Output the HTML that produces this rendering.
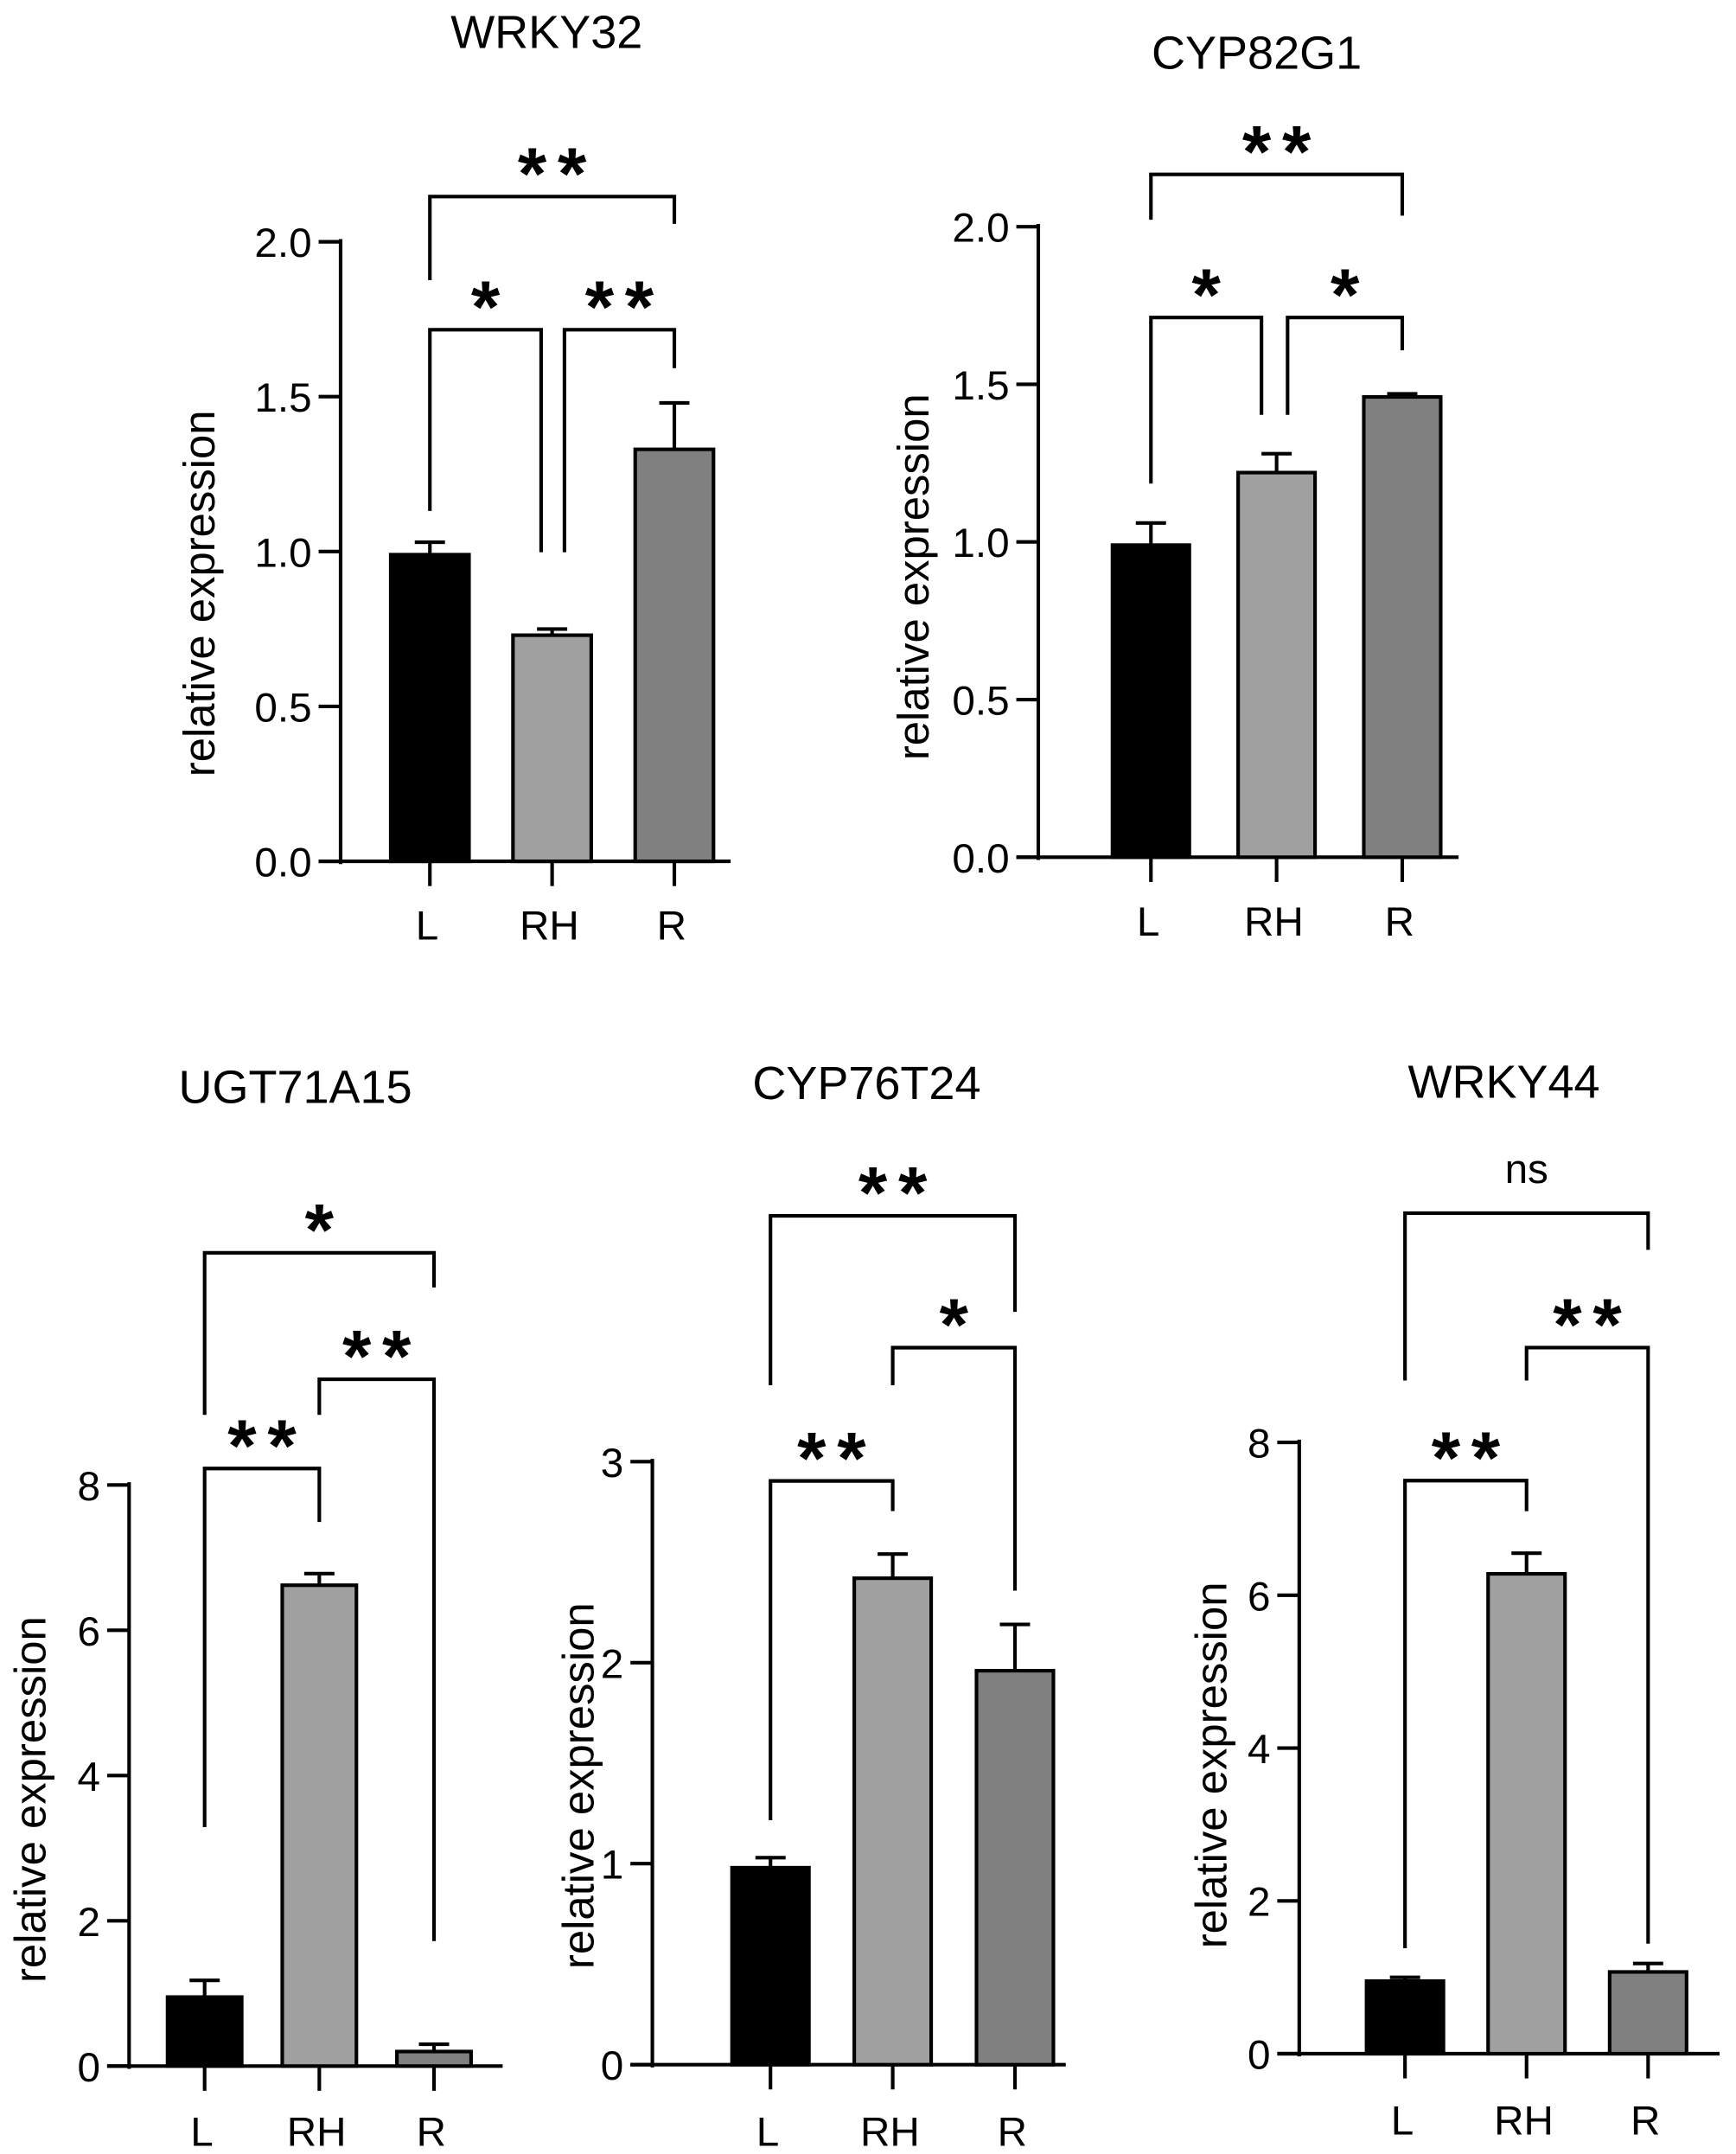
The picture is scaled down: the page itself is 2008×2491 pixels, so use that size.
<!DOCTYPE html>
<html><head><meta charset="utf-8"><style>
html,body{margin:0;padding:0;background:#fff}
svg{display:block}
text{font-family:"Liberation Sans",Arial,sans-serif;fill:#000}
</style></head><body>
<svg id="fig" width="2008" height="2491" viewBox="0 0 1264 1568" xmlns="http://www.w3.org/2000/svg"></svg>
<script>
const categories = ["L","RH","R"];
const titles = ["WRKY32","CYP82G1","UGT71A15","CYP76T24","WRKY44"];
const meansWRKY32 = [0.99,0.73,1.33];
const errWRKY32 = [0.04,0.02,0.15];
const meansCYP82G1 = [0.99,1.22,1.46];
const errCYP82G1 = [0.07,0.06,0.01];
const meansUGT71A15 = [0.95,6.62,0.2];
const errUGT71A15 = [0.23,0.16,0.1];
const meansCYP76T24 = [0.98,2.42,1.96];
const errCYP76T24 = [0.05,0.12,0.23];
const meansWRKY44 = [0.95,6.28,1.07];
const errWRKY44 = [0.05,0.27,0.11];
const ticksWRKY32 = ["0.0","0.5","1.0","1.5","2.0"];
const ticksCYP82G1 = ["0.0","0.5","1.0","1.5","2.0"];
const ticksUGT71A15 = ["0","2","4","6","8"];
const ticksCYP76T24 = ["0","1","2","3"];
const ticksWRKY44 = ["0","2","4","6","8"];
// brackets: [from, to, level, leftEnd, rightEnd, label, leftOffsetPx, rightOffsetPx]
const sigWRKY32 = [[0,2,2.146,1.876,2.058,"**",0,0],[0,1,1.716,1.131,0.998,"*",0,-8],[1,2,1.716,0.998,1.592,"**",9,0]];
const sigCYP82G1 = [[0,2,2.166,2.022,2.035,"**",0,0],[0,1,1.712,1.185,1.403,"*",0,-11],[1,2,1.712,1.403,1.608,"*",8,0]];
const sigUGT71A15 = [[0,2,11.196,8.965,10.72,"*",0,0],[1,2,9.456,8.965,1.721,"**",0,0],[0,1,8.227,3.29,7.49,"**",0,0]];
const sigCYP76T24 = [[0,2,4.223,3.38,3.745,"**",0,0],[1,2,3.567,3.38,2.358,"*",0,0],[0,1,2.904,1.216,2.754,"**",0,0]];
const sigWRKY44 = [[0,2,11.0,8.81,10.52,"ns",0,0],[1,2,9.24,8.81,1.44,"**",0,0],[0,1,7.5,1.38,7.1,"**",0,0]];

const panels = [
 {name:"wrky32",title:titles[0],means:meansWRKY32,err:errWRKY32,ticks:ticksWRKY32,step:0.5,sig:sigWRKY32,ax:248,zero:627,top:176,xEnd:532,cx0:313,dx:89,bw:57,tx:398,ty:35,ytx:146,yty:432,lab:684},
 {name:"cyp82g1",title:titles[1],means:meansCYP82G1,err:errCYP82G1,ticks:ticksCYP82G1,step:0.5,sig:sigCYP82G1,ax:756,zero:624,top:165,xEnd:1062,cx0:838,dx:91.5,bw:56,tx:915,ty:50,ytx:666,yty:420,lab:681},
 {name:"ugt71a15",title:titles[2],means:meansUGT71A15,err:errUGT71A15,ticks:ticksUGT71A15,step:2,sig:sigUGT71A15,ax:94,zero:1504,top:1081,xEnd:366,cx0:149,dx:83.5,bw:54,tx:215,ty:803,ytx:23,yty:1310,lab:1562},
 {name:"cyp76t24",title:titles[3],means:meansCYP76T24,err:errCYP76T24,ticks:ticksCYP76T24,step:1,sig:sigCYP76T24,ax:475,zero:1503,top:1064,xEnd:776,cx0:561,dx:89,bw:56,tx:631,ty:800,ytx:422,yty:1300,lab:1562},
 {name:"wrky44",title:titles[4],means:meansWRKY44,err:errWRKY44,ticks:ticksWRKY44,step:2,sig:sigWRKY44,ax:946,zero:1495,top:1050,xEnd:1252,cx0:1023,dx:88.5,bw:56,tx:1095,ty:799,ytx:883,yty:1285,lab:1554}
];
const fills = ["#000000","#a0a0a0","#808080"];
const NS="http://www.w3.org/2000/svg";
const svg=document.getElementById('fig');
function mk(tag,attrs,parent){const e=document.createElementNS(NS,tag);for(const k in attrs)e.setAttribute(k,attrs[k]);parent.appendChild(e);return e;}
panels.forEach(p=>{
  const g=mk('g',{},svg);
  
  
  const maxV=(p.ticks.length-1)*p.step;
  const y=v=>p.zero-(v/maxV)*(p.zero-p.top);
  const x=i=>p.cx0+i*p.dx;
  const lw=2.6;
  const t=mk('text',{x:p.tx,y:p.ty,'text-anchor':'middle','font-size':34},g);t.textContent=p.title;
  
  
  const at=mk('text',{x:0,y:0,'text-anchor':'middle','font-size':32,transform:`translate(${p.ytx+10},${p.yty}) rotate(-90)`},g);at.textContent="relative expression";
  
  
  const ya=mk('line',{x1:p.ax,y1:p.top-2,x2:p.ax,y2:p.zero+2,stroke:'#000','stroke-width':lw},g);
  
  
  const xa=mk('line',{x1:p.ax-16,y1:p.zero,x2:p.xEnd,y2:p.zero,stroke:'#000','stroke-width':lw},g);
  
  
  p.ticks.forEach((lab,k)=>{
    const yy=y(k*p.step);
    mk('line',{x1:p.ax-16,y1:yy,x2:p.ax,y2:yy,stroke:'#000','stroke-width':lw},g);
    const tl=mk('text',{x:p.ax-21,y:yy+11,'text-anchor':'end','font-size':30},g);tl.textContent=lab;
    
    
  });
  categories.forEach((c,i)=>{
    const cx=x(i),top=y(p.means[i]),et=y(p.means[i]+p.err[i]);
    mk('line',{x1:cx,y1:top,x2:cx,y2:et,stroke:'#000','stroke-width':lw},g);
    mk('line',{x1:cx-11,y1:et,x2:cx+11,y2:et,stroke:'#000','stroke-width':lw},g);
    const r=mk('rect',{x:cx-p.bw/2,y:top,width:p.bw,height:p.zero-top,fill:fills[i],stroke:'#000','stroke-width':lw},g);
    
    
    mk('line',{x1:cx,y1:p.zero,x2:cx,y2:p.zero+18,stroke:'#000','stroke-width':lw},g);
    const xl=mk('text',{x:cx-2,y:p.lab,'text-anchor':'middle','font-size':30},g);xl.textContent=c;
    
    
  });
  p.sig.forEach(s=>{
    const x1=x(s[0])+s[6],x2=x(s[1])+s[7],yl=y(s[2]);
    const path=mk('path',{d:`M${x1},${y(s[3])}V${yl}H${x2}V${y(s[4])}`,fill:'none',stroke:'#000','stroke-width':lw},g);
    
    
    const isNs=s[5]==="ns";
    const st=mk('text',{x:(x1+x2)/2+(isNs?0:4),y:isNs?yl-22:yl+2,'text-anchor':'middle','font-size':isNs?30:54,'font-weight':isNs?'normal':'bold','letter-spacing':isNs?0:8},g);
    st.textContent=s[5];
    
    
  });
});
</script>
</body></html>
